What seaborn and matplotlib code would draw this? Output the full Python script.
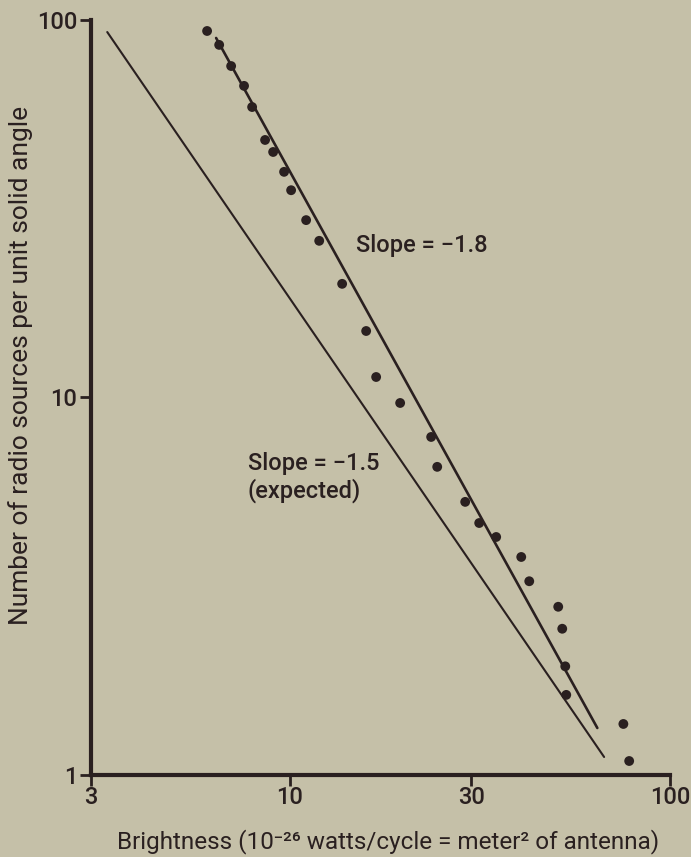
import numpy as np
import pandas as pd
import matplotlib
matplotlib.use("Agg")
import matplotlib.pyplot as plt
import seaborn as sns

# Observed counts (brightness, number per unit solid angle)
brightness = [6.06, 6.52, 7.01, 7.58, 7.96, 8.61, 9.04, 9.66, 10.08, 11.04,
              11.95, 13.73, 15.88, 16.87, 19.51, 23.54, 24.42, 28.93, 31.49,
              34.90, 40.62, 42.64, 50.82, 52.07, 53.03, 53.35, 75.4, 78.1]
counts = [93.5, 85.9, 75.5, 66.9, 58.8, 48.1, 44.7, 39.6, 35.4, 29.5,
          26.0, 20.0, 15.0, 11.33, 9.67, 7.86, 6.55, 5.29, 4.65,
          4.27, 3.78, 3.26, 2.79, 2.44, 1.94, 1.63, 1.365, 1.089]

# Reference lines (end points)
line_expected_x = [3.31, 67.1]
line_expected_y = [92.9, 1.116]
line_fit_x = [6.40, 64.4]
line_fit_y = [89.6, 1.332]

x_ticks = [3, 10, 30, 100]
x_tick_labels = ["3", "10", "30", "100"]
y_ticks = [1, 10, 100]
y_tick_labels = ["1", "10", "100"]

BG = "#c5c0a8"
INK = "#2a2020"
FAM = ["Roboto", "DejaVu Sans"]

sns.set_theme(style="ticks")
plt.rcParams["font.family"] = FAM
plt.rcParams["font.weight"] = "medium"

fig = plt.figure(figsize=(6.91, 8.57), dpi=100, facecolor=BG)
ax = fig.add_axes([0.1317, 0.0957, 0.8379, 0.881])
ax.set_facecolor(BG)

pts = pd.DataFrame({"brightness": brightness, "count": counts})
l1 = pd.DataFrame({"x": line_expected_x, "y": line_expected_y})
l2 = pd.DataFrame({"x": line_fit_x, "y": line_fit_y})

sns.lineplot(data=l1, x="x", y="y", ax=ax, color=INK, linewidth=1.5)
sns.lineplot(data=l2, x="x", y="y", ax=ax, color=INK, linewidth=1.9)
sns.scatterplot(data=pts, x="brightness", y="count", ax=ax, color=INK,
                s=50, edgecolor="none", zorder=5)

ax.set_xscale("log")
ax.set_yscale("log")
ax.set_xlim(3, 100)
ax.set_ylim(1, 100)
ax.set_xticks(x_ticks)
ax.set_xticklabels(x_tick_labels)
ax.set_yticks(y_ticks)
ax.set_yticklabels(y_tick_labels)
ax.minorticks_off()

for s in ["top", "right"]:
    ax.spines[s].set_visible(False)
for s in ["left", "bottom"]:
    ax.spines[s].set_linewidth(3)
    ax.spines[s].set_color(INK)
ax.tick_params(axis="both", colors=INK, width=2, length=8, direction="out",
               labelsize=17, pad=2)
ax.tick_params(axis="x", pad=0)

ax.set_xlabel("Brightness (10\u207b\u00b2\u2076 watts/cycle = meter\u00b2 of antenna)",
              fontsize=17.5, color=INK)
ax.xaxis.set_label_coords(0.513, -0.071)
ax.set_ylabel("Number of radio sources per unit solid angle",
              fontsize=19, color=INK)
ax.yaxis.set_label_coords(-0.1, 0.542)

ax.text(0.458, 0.7007, "Slope = \u22121.8", transform=ax.transAxes,
        fontsize=17, color=INK, va="center", ha="left")
ax.text(0.271, 0.413, "Slope = \u22121.5", transform=ax.transAxes,
        fontsize=17, color=INK, va="center", ha="left")
ax.text(0.271, 0.377, "(expected)", transform=ax.transAxes,
        fontsize=17, color=INK, va="center", ha="left")

fig.savefig("out.png", dpi=100, facecolor=BG)
